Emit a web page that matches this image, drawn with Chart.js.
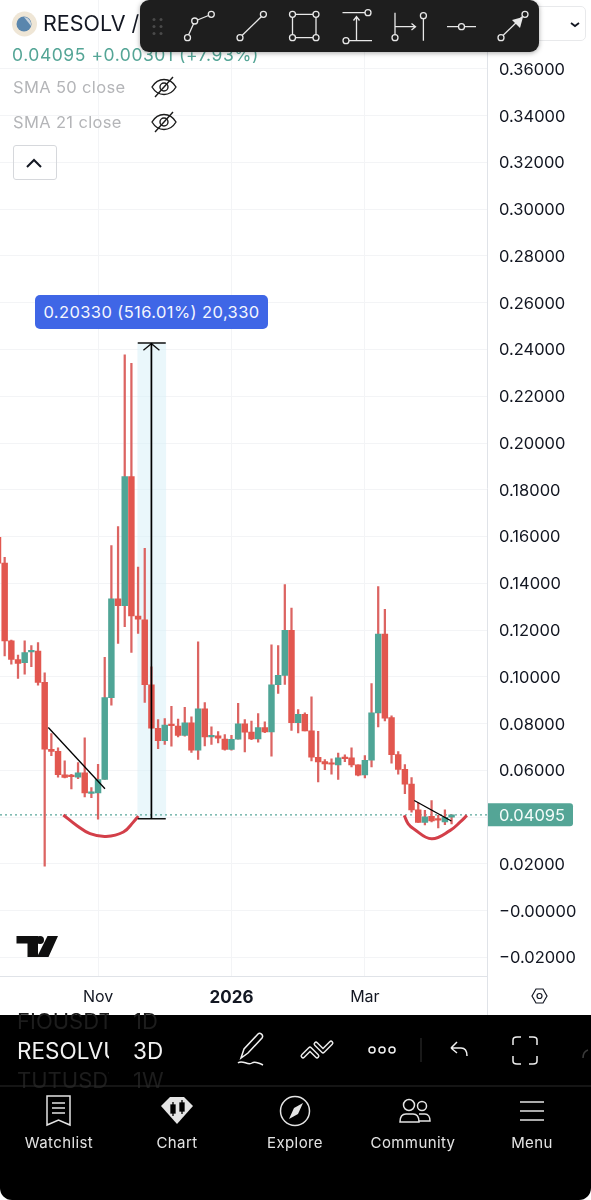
<!DOCTYPE html>
<html>
<head>
<meta charset="utf-8">
<title>RESOLV</title>
<script src="https://cdn.jsdelivr.net/npm/chart.js@4"></script>
<style>
html, body { margin: 0; padding: 0; background: #fff; }
body { width: 591px; height: 1200px; position: relative; overflow: hidden; font-family: Inter, sans-serif; }
#myChart { position: absolute; left: 0; top: 0; }
.t { position: absolute; white-space: nowrap; line-height: 1; }
#overlay { position: absolute; left: 0; top: 0; z-index: 3; }
#toolbar { position: absolute; left: 140px; top: 0; width: 399px; height: 52px; background: #1e1e1e; border-radius: 9px; box-shadow: 0 1px 5px rgba(0,0,0,.35); z-index: 2; }
#panel { position: absolute; left: 0; top: 1015px; width: 591px; height: 185px; background: #000; border-radius: 0 0 12px 12px; z-index: 1; overflow: hidden; }
#measure { position: absolute; left: 35px; top: 295px; width: 233px; height: 34px; line-height: 35px; text-align: center; background: #3f66e6; color: #f4f6fe; font-size: 16.5px; border-radius: 5px; letter-spacing: .4px; }
#btn { position: absolute; left: 13px; top: 145px; width: 42px; height: 33px; border: 1px solid #d6d8dc; border-radius: 3px; }
#dropdown { position: absolute; left: 500px; top: 6px; width: 84px; height: 33px; border: 1px solid #e8e9eb; border-radius: 5px; }
#axisV { position: absolute; left: 487px; top: 976px; width: 1px; height: 39px; background: #e0e3e8; }
.nav { position: absolute; top: 1135px; width: 110px; text-align: center; color: #e4e4e4; font-size: 15px; letter-spacing: .4px; line-height: 1; z-index: 2; }
</style>
</head>
<body>
<canvas id="myChart" width="591" height="1015"></canvas>

<div class="t" style="left:43px;top:13px;font-size:21.5px;color:#131722">RESOLV / </div>
<div class="t" style="left:12px;top:46px;font-size:17.5px;color:#54a596;letter-spacing:.55px">0.04095 +0.00301 (+7.93%)</div>
<div class="t" style="left:13px;top:79px;font-size:16.5px;color:#b4b5b8;letter-spacing:.35px">SMA 50 close</div>
<div class="t" style="left:13px;top:114px;font-size:16.5px;color:#b4b5b8;letter-spacing:.35px">SMA 21 close</div>
<div id="btn"></div>
<div id="dropdown"></div>
<div id="measure">0.20330 (516.01%) 20,330</div>
<div id="axisV"></div>
<div id="toolbar"></div>
<div id="panel"></div>

<div class="t" style="left:17px;top:1010px;font-size:22px;color:#1d1d1d;z-index:2;width:92px;overflow:hidden">FIOUSDT</div>
<div class="t" style="left:133px;top:1010px;font-size:22px;color:#1d1d1d;z-index:2">1D</div>
<div class="t" style="left:17px;top:1040px;font-size:22.5px;color:#f2f2f2;z-index:2;width:92px;overflow:hidden">RESOLVUSDT</div>
<div class="t" style="left:133px;top:1040px;font-size:22.5px;color:#f2f2f2;z-index:2">3D</div>
<div class="t" style="left:17px;top:1069px;font-size:22px;color:#1d1d1d;z-index:2;width:92px;overflow:hidden">TUTUSDT</div>
<div class="t" style="left:133px;top:1069px;font-size:22px;color:#1d1d1d;z-index:2">1W</div>
<div class="nav" style="left:4px">Watchlist</div>
<div class="nav" style="left:122px">Chart</div>
<div class="nav" style="left:240px">Explore</div>
<div class="nav" style="left:358px">Community</div>
<div class="nav" style="left:477px">Menu</div>

<svg id="overlay" width="591" height="1200" fill="none">
  <!-- symbol icon -->
  <circle cx="24.5" cy="24" r="12.5" fill="#efe6d6"/>
  <circle cx="24" cy="24" r="7.5" fill="#5a86ad"/>
  <path d="M24 17a7.5 7.5 0 0 1 7 9z" fill="#c8d4de"/>
  <!-- eye icons -->
  <g stroke="#1c1c1c" stroke-width="1.4">
    <path d="M152 87c6-10 18-10 24 0c-6 10-18 10-24 0z"/><circle cx="164" cy="87" r="4"/><path d="M155 97l18-20"/>
    <path d="M152 122c6-10 18-10 24 0c-6 10-18 10-24 0z"/><circle cx="164" cy="122" r="4"/><path d="M155 132l18-20"/>
  </g>
  <path d="M27 167l7-7l7 7" stroke="#131722" stroke-width="2"/>
  <path d="M571 23l4 3l4-3" stroke="#131722" stroke-width="1.8"/>
  <!-- toolbar grip -->
  <g fill="#4a4a4a">
    <circle cx="154" cy="19.5" r="1.5"/><circle cx="161" cy="19.5" r="1.5"/>
    <circle cx="154" cy="26.5" r="1.5"/><circle cx="161" cy="26.5" r="1.5"/>
    <circle cx="154" cy="33.5" r="1.5"/><circle cx="161" cy="33.5" r="1.5"/>
  </g>
  <!-- toolbar icons -->
  <g stroke="#e8e8e8" stroke-width="1.3">
    <path d="M188.5 35l5.200-11.500M197.500 20l11-4.500"/>
    <circle cx="187.500" cy="37.700" r="3"/><circle cx="194.700" cy="21" r="3"/><circle cx="211.300" cy="14.300" r="3"/>
    <path d="M242 35.500l19.500-19"/>
    <circle cx="240" cy="37.700" r="3"/><circle cx="263.400" cy="14.300" r="3"/>
    <path d="M295.500 14.300h17.500M295.500 37.700h17.500M292.500 17.300v17.500M316 17.300v17.500"/>
    <circle cx="292.500" cy="14.300" r="3"/><circle cx="316" cy="14.300" r="3"/><circle cx="292.500" cy="37.700" r="3"/><circle cx="316" cy="37.700" r="3"/>
    <path d="M342.500 12.700h22.500M349 40.700h23M356.500 40.700V17M353.500 20.500l3-4l3 4"/>
    <circle cx="368" cy="12.700" r="3"/><circle cx="346" cy="40.700" r="3"/>
    <path d="M395 12.700v22M423.400 18.700v22M395 26.700h20M411.500 23.500l4 3.200l-4 3.200"/>
    <circle cx="395" cy="37.700" r="3"/><circle cx="423.400" cy="15.700" r="3"/>
    <path d="M447 26.700h11.500M464.500 26.700H476"/><circle cx="461.500" cy="26.700" r="3"/>
    <path d="M503 35.500l19.500-19"/>
    <circle cx="501" cy="37.700" r="3"/><circle cx="525" cy="14.300" r="3"/>
  </g>
  <path d="M523 17l-11 3l8 8z" fill="#e8e8e8"/>
  <!-- tradingview logo -->
  <path d="M16.500 936h21.500v21h-10.500v-13.500h-11z M47.500 936h10.500l-9.500 21h-11.500z" fill="#0f0f0f"/>
  <circle cx="40" cy="940" r="4" fill="#0f0f0f"/>
  <!-- axis settings -->
  <path d="M532 996l4-7h7l4 7l-4 7h-7z" stroke="#131722" stroke-width="1.2"/><circle cx="539.500" cy="996" r="2.500" stroke="#131722" stroke-width="1.200"/>
  <!-- panel tools -->
  <g stroke="#f0f0f0" stroke-width="1.500">
    <path d="M241 1058l3-9l14-15c2-2 6 1 4 4l-14 15z"/><path d="M238 1063c4-4 10 3 14-0c3-2 7 0 11 2"/>
    <circle cx="372" cy="1050" r="3"/><circle cx="382" cy="1050" r="3"/><circle cx="392" cy="1050" r="3"/>
    <path d="M451 1048l6-6M451 1048l6 5M451 1048h10c4 0 6 3 6 8"/>
    <path d="M513 1045v-5c0-2 2-3 4-3h4M529 1037h4c2 0 4 1 4 3v5M537 1056v5c0 2-2 3-4 3h-4M521 1064h-4c-2 0-4-1-4-3v-5"/>
  </g>
  <!-- outlined zigzag tool -->
  <path d="M303 1056l7-7l7 7M316 1044l7 7l8-8" stroke="#e8e8e8" stroke-width="5" stroke-linecap="round" stroke-linejoin="round"/>
  <path d="M303 1056l7-7l7 7M316 1044l7 7l8-8" stroke="#000" stroke-width="2" stroke-linecap="round" stroke-linejoin="round"/>
  <path d="M421 1038v24" stroke="#333"/>
  <path d="M583 1058c0-4 2-7 5-8" stroke="#3a3a3a" stroke-width="1.500"/>
  <path d="M0 1086h591" stroke="#2a2a2a"/>
  <!-- nav icons -->
  <g stroke="#e4e4e4" stroke-width="1.500">
    <path d="M47 1096h23v29l-11.500-5l-11.500 5zM52 1103h13M52 1108h13M52 1113h13"/>
    <circle cx="295" cy="1111" r="14.500"/>
    <circle cx="409" cy="1105" r="5.500"/><circle cx="422" cy="1106" r="4.500"/>
    <path d="M400 1122c0-5 2-8 6-8h7c4 0 6 3 6 8zM419 1114h6c3 0 5 3 5 7h-11"/>
    <path d="M520 1102h24M520 1111h24M520 1120h24"/>
  </g>
  <path d="M161 1106l9-9h14l9 9l-16 18z" fill="#e4e4e4"/>
  <g stroke="#000" stroke-width="1.300" fill="none"><path d="M173 1102v14M182 1100v14"/><rect x="171" y="1105" width="4" height="8" fill="#000"/><rect x="180" y="1103" width="4" height="8" fill="#000"/></g>
  <path d="M303 1103l-5 11l-9 5l5-11z" fill="#e4e4e4"/>
</svg>

<script>
// values, one entry per 3D candle, first one is cut by the left edge
const opens = [0.1597,0.1486,0.1154,0.1074,0.1060,0.1106,0.1110,0.0976,0.0690,0.0681,0.0581,0.0576,0.0571,0.0589,0.0501,0.0503,0.0561,0.0911,0.1334,0.1304,0.1856,0.1260,0.1244,0.0966,0.0780,0.0727,0.0794,0.0789,0.0749,0.0803,0.0686,0.0863,0.0743,0.0747,0.0734,0.0689,0.0733,0.0799,0.0763,0.0734,0.0783,0.0764,0.0966,0.1006,0.1199,0.0804,0.0839,0.0769,0.0656,0.0637,0.0629,0.0623,0.0654,0.0653,0.0623,0.0580,0.0643,0.0846,0.1183,0.0826,0.0667,0.0604,0.0541,0.0431,0.0377,0.0403,0.0390,0.0379,0.0400];
const highs = [0.1630,0.1511,0.1157,0.1093,0.1154,0.1133,0.1146,0.1017,0.0757,0.0696,0.0640,0.0583,0.0633,0.0739,0.0526,0.0626,0.1083,0.1561,0.1643,0.2377,0.2341,0.1469,0.1550,0.1043,0.0817,0.0821,0.0874,0.0819,0.0869,0.0829,0.1150,0.0890,0.0786,0.0766,0.0753,0.0750,0.0887,0.0817,0.0811,0.0843,0.0807,0.1137,0.1134,0.1394,0.1294,0.0860,0.0846,0.0914,0.0767,0.0646,0.0649,0.0674,0.0666,0.0696,0.0623,0.0663,0.0971,0.1386,0.1289,0.0833,0.0680,0.0624,0.0569,0.0461,0.0429,0.0471,0.0407,0.0431,0.0410];
const lows = [0.1470,0.1089,0.1054,0.0993,0.1011,0.1043,0.0964,0.0190,0.0663,0.0571,0.0567,0.0520,0.0564,0.0486,0.0483,0.0391,0.0561,0.0879,0.1143,0.1214,0.1104,0.1186,0.0890,0.0780,0.0693,0.0711,0.0703,0.0743,0.0746,0.0676,0.0647,0.0704,0.0711,0.0717,0.0686,0.0686,0.0733,0.0679,0.0731,0.0720,0.0761,0.0660,0.0929,0.0967,0.0771,0.0760,0.0769,0.0640,0.0550,0.0603,0.0583,0.0561,0.0637,0.0614,0.0576,0.0567,0.0614,0.0786,0.0811,0.0631,0.0584,0.0500,0.0421,0.0377,0.0366,0.0379,0.0354,0.0367,0.0371];
const closes = [0.1486,0.1153,0.1074,0.1057,0.1104,0.1113,0.0976,0.0690,0.0681,0.0581,0.0570,0.0573,0.0589,0.0503,0.0506,0.0560,0.0911,0.1334,0.1304,0.1856,0.1260,0.1246,0.0966,0.0780,0.0727,0.0793,0.0791,0.0749,0.0803,0.0686,0.0863,0.0743,0.0749,0.0737,0.0689,0.0733,0.0799,0.0763,0.0734,0.0783,0.0764,0.0966,0.1006,0.1199,0.0804,0.0839,0.0769,0.0656,0.0636,0.0627,0.0626,0.0653,0.0650,0.0623,0.0579,0.0643,0.0846,0.1183,0.0823,0.0667,0.0604,0.0541,0.0431,0.0377,0.0401,0.0384,0.0387,0.0399,0.04095];

const yTicks = [0.36,0.34,0.32,0.30,0.28,0.26,0.24,0.22,0.20,0.18,0.16,0.14,0.12,0.10,0.08,0.06,0.04,0.02,0,-0.02];
const yTickLabels = ['0.36000','0.34000','0.32000','0.30000','0.28000','0.26000','0.24000','0.22000','0.20000','0.18000','0.16000','0.14000','0.12000','0.10000','0.08000','0.06000','0.04000','0.02000','\u22120.00000','\u22120.02000'];
const xTicks = [14, 34, 54];
const xTickLabels = ['Nov', '2026', 'Mar'];

const lastPrice = 0.04095;
const lastPriceLabel = '0.04095';

// drawings on the chart, x in candle numbers
const trendA = [{x:6.54,y:0.0783},{x:15.04,y:0.0521}];
const trendB = [{x:61.4,y:0.0471},{x:66.97,y:0.0383}];
const arcA = [{x:8.8,y:0.0409},{x:10.8,y:0.0364},{x:12.8,y:0.0329},{x:15.2,y:0.0317},{x:17.8,y:0.0336},{x:19.3,y:0.0379},{x:20.04,y:0.0404}];
const arcB = [{x:59.9,y:0.0407},{x:60.5,y:0.0371},{x:61.3,y:0.0350},{x:64,y:0.0307},{x:66.8,y:0.0343},{x:68.3,y:0.0379},{x:69.3,y:0.0407}];
const measureBand = [{x:22.05,y:[0.0393,0.2428]}];
const measureLine = [{x:22,y:0.0393},{x:22,y:0.2428}];
const measureTopCap = [{x:19.95,y:0.2428},{x:24.15,y:0.2428}];
const measureBottomCap = [{x:19.95,y:0.0393},{x:24.15,y:0.0393}];
const measureArrow = [{x:20.8,y:0.2397},{x:22,y:0.2425},{x:23.2,y:0.2397}];

const upColor = '#4fa596';
const downColor = '#e2574f';
const wickColor = '#dc6462';
const gridColor = '#f3f4f6';

const candleIndex = opens.map((_, i) => i - 1);
const isUp = opens.map((o, i) => closes[i] >= o);

const wicks = candleIndex.map((x, i) => ({x: x, y: [lows[i], highs[i]]}));
const bodies = candleIndex.map((x, i) => ({x: x, y: [opens[i], closes[i]]}));
const lastPriceLine = [{x: -0.7, y: lastPrice}, {x: 72.31, y: lastPrice}];

function drawing(data, color, width, extra) {
    return Object.assign({
        type: 'line',
        data: data,
        borderColor: color,
        borderWidth: width,
        pointRadius: 0,
        fill: false,
        order: 0
    }, extra);
}

// price tag sitting on the right axis
const lastPriceTag = {
    id: 'lastPriceTag',
    afterDraw(chart) {
        const y = chart.scales.y.getPixelForValue(lastPrice);
        const c = chart.ctx;
        c.save();
        c.fillStyle = '#54a596';
        c.beginPath();
        c.roundRect(chart.chartArea.right + 1, y - 11.5, 85, 23, [0, 3, 3, 0]);
        c.fill();
        c.fillStyle = '#f2fbf9';
        c.font = '16.5px Inter';
        c.textBaseline = 'middle';
        c.fillText(lastPriceLabel, chart.chartArea.right + 12, y + 1);
        c.restore();
    }
};

const ctx = document.getElementById('myChart').getContext('2d');

const myChart = new Chart(ctx, {
    type: 'bar',
    data: {
        datasets: [
            {
                data: measureBand,
                backgroundColor: 'rgba(214, 240, 248, 0.5)',
                barThickness: 28,
                grouped: false,
                order: 5
            },
            drawing(lastPriceLine, '#5aa79a', 1.2, {borderDash: [2, 3], order: 4}),
            {
                data: wicks,
                backgroundColor: wickColor,
                barThickness: 1.6,
                grouped: false,
                order: 3
            },
            {
                data: bodies,
                backgroundColor: isUp.map(u => u ? upColor : downColor),
                barThickness: 5.8,
                minBarLength: 1.5,
                grouped: false,
                order: 2
            },
            drawing(measureLine, '#000', 1.7),
            drawing(measureTopCap, '#111', 1.5),
            drawing(measureBottomCap, '#111', 1.5),
            drawing(measureArrow, '#111', 1.3),
            drawing(trendA, '#000', 1.3),
            drawing(trendB, '#000', 1.3),
            drawing(arcA, '#d33f49', 3, {tension: 0.4}),
            drawing(arcB, '#d33f49', 3, {tension: 0.4})
        ]
    },
    plugins: [lastPriceTag],
    options: {
        responsive: false,
        animation: false,
        layout: {padding: 0},
        plugins: {
            legend: {display: false},
            tooltip: {enabled: false}
        },
        scales: {
            x: {
                type: 'linear',
                offset: false,
                min: -0.7,
                max: 72.31,
                afterBuildTicks: (scale) => {
                    scale.ticks = xTicks.map(v => ({value: v}));
                },
                afterFit: (scale) => {
                    scale.height = 38.5;
                    scale.paddingLeft = 0;
                    scale.paddingRight = 0;
                },
                grid: {color: gridColor, drawTicks: false, offset: false},
                border: {color: '#e0e3e8'},
                ticks: {
                    autoSkip: false,
                    maxRotation: 0,
                    padding: 11,
                    color: '#131722',
                    font: (c) => ({family: 'Inter', size: c.index === 1 ? 17 : 16, weight: c.index === 1 ? 'bold' : 'normal'}),
                    callback: (v) => xTickLabels[xTicks.indexOf(v)]
                }
            },
            y: {
                position: 'right',
                min: -0.0282,
                max: 0.3895,
                afterBuildTicks: (scale) => {
                    scale.ticks = yTicks.map(v => ({value: v}));
                },
                afterFit: (scale) => {
                    scale.width = 104;
                    scale.paddingTop = 0;
                    scale.paddingBottom = 0;
                },
                grid: {color: gridColor, drawTicks: false},
                border: {color: '#e0e3e8'},
                ticks: {
                    autoSkip: false,
                    padding: 12,
                    labelOffset: 1,
                    color: '#131722',
                    font: {family: 'Inter', size: 16.5},
                    callback: (v) => yTickLabels[yTicks.indexOf(v)]
                }
            }
        }
    }
});
</script>
</body>
</html>
